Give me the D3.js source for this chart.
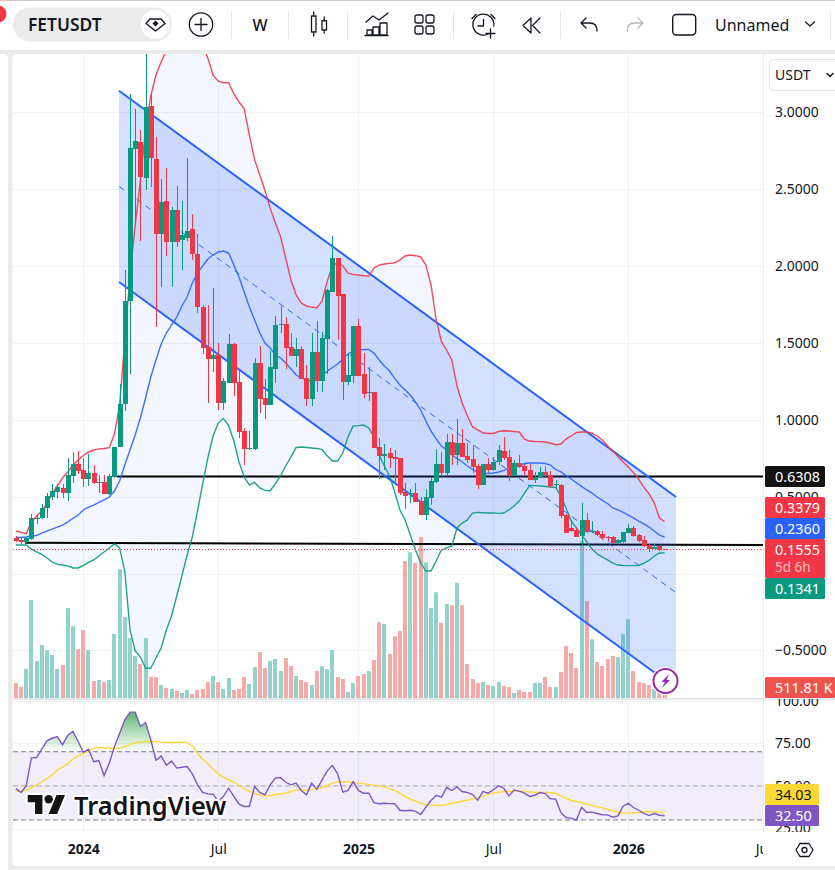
<!DOCTYPE html>
<html>
<head>
<meta charset="utf-8">
<title>FETUSDT weekly</title>
<script src="https://cdn.jsdelivr.net/npm/d3@7/dist/d3.min.js"></script>
<style>
html,body{margin:0;padding:0;background:#fff;overflow:hidden}
svg{display:block}
text{font-family:"Noto Sans","Open Sans",sans-serif}
</style>
</head>
<body>
<svg id="chart" width="835" height="870"></svg>
<script>
// Weekly bars, indexed from the first week of 2024 (bar 0).
const firstBar = -13;

const opens = [
.234,.221,.204,.225,.360,.360,.425,.498,.531,.553,.522,.635,.711,
.672,.613,.652,.590,.598,.516,.626,.821,1.100,1.771,2.760,2.805,2.570,3.040,2.695,2.210,2.420,2.157,2.360,2.167,2.183,2.240,2.080,1.730,1.475,1.396,1.420,1.110,1.240,1.490,1.243,.926,.810,.811,1.368,1.140,1.095,1.327,1.615,1.622,1.470,1.416,1.457,1.273,1.134,1.440,1.251,1.524,1.832,2.050,1.817,1.247,1.286,1.609,1.297,1.175,1.180,
.822,.766,.781,.757,.751,.532,.517,.521,.471,.380,.493,.597,.712,.651,.855,.770,.848,.764,.744,.697,.575,.712,.673,.727,.796,.757,.632,.718,.699,.673,.610,.627,.660,.638,.577,.575,.380,.296,.283,.244,.348,.270,.274,.257,.237,.239,.196,.203,.265,.296,.252,.218,.185,.159,.181,.158];
const highs = [
.243,.228,.238,.390,.380,.451,.524,.579,.579,.581,.748,.789,.795,
.752,.780,.704,.642,.642,.650,.821,1.235,1.973,3.120,3.020,2.880,3.500,3.120,2.840,2.565,2.635,2.380,2.520,2.420,2.700,2.340,2.210,1.745,1.745,1.856,1.500,1.270,1.556,1.500,1.320,.945,.926,1.400,1.479,1.264,1.448,1.674,1.739,1.670,1.563,1.530,1.479,1.355,1.565,1.641,1.570,1.850,2.194,2.050,1.817,1.435,1.609,1.654,1.431,1.344,1.183,
.879,.842,.818,.803,.751,.588,.551,.586,.500,.551,.629,.807,.792,.907,.907,1.002,.939,.848,.833,.715,.715,.749,.759,.833,.887,.803,.738,.768,.715,.715,.660,.694,.700,.666,.608,.580,.390,.348,.304,.456,.395,.343,.283,.278,.244,.244,.225,.272,.322,.309,.254,.246,.192,.192,.183,.159];
const lows = [
.206,.195,.200,.221,.325,.355,.360,.477,.488,.488,.470,.590,.650,
.561,.568,.581,.524,.516,.512,.622,.821,1.056,1.297,2.280,2.160,2.490,2.510,1.600,1.860,2.065,1.865,2.125,1.970,2.160,2.040,1.695,1.430,1.110,1.310,1.060,1.060,1.240,1.154,.880,.707,.805,.800,1.045,1.006,1.095,1.240,1.563,1.330,1.416,1.345,1.266,1.089,1.089,1.180,1.180,1.300,1.832,1.518,1.128,1.225,1.236,1.286,1.140,1.120,.818,
.612,.673,.686,.597,.510,.417,.456,.465,.380,.348,.445,.586,.640,.634,.705,.705,.759,.716,.651,.551,.575,.651,.668,.705,.738,.603,.632,.688,.638,.608,.590,.625,.620,.554,.554,.360,.261,.272,.235,.185,.265,.261,.246,.222,.207,.192,.192,.198,.265,.239,.207,.175,.142,.157,.148,.154];
const closes = [
.212,.204,.234,.364,.364,.429,.503,.535,.561,.522,.639,.711,.665,
.613,.652,.587,.598,.516,.633,.821,1.100,1.771,2.766,2.810,2.580,3.030,2.700,2.210,2.415,2.157,2.360,2.157,2.200,2.226,2.080,1.730,1.468,1.396,1.420,1.106,1.250,1.490,1.240,.922,.811,.815,1.368,1.136,1.095,1.342,1.615,1.622,1.468,1.416,1.460,1.266,1.134,1.440,1.251,1.531,1.843,2.050,1.806,1.247,1.290,1.609,1.286,1.167,1.180,.818,
.764,.775,.753,.746,.525,.506,.521,.465,.380,.497,.601,.712,.653,.855,.770,.848,.759,.738,.692,.575,.710,.673,.727,.803,.753,.632,.718,.692,.666,.610,.627,.660,.640,.571,.582,.376,.261,.278,.235,.348,.270,.278,.252,.231,.233,.196,.218,.268,.296,.244,.211,.179,.161,.172,.155,.1555];

// Weekly volume, in millions of FET.
const volumes = [
2.55,1.87,4.93,16.7,6.29,9.0,8.16,7.3,4.93,5.6,15.3,12.2,8.33,
11.6,8.16,2.9,3.06,2.72,3.06,10.9,21.9,13.8,10.2,7.14,5.78,10.2,3.57,3.57,2.21,1.7,1.53,1.19,.85,1.36,.68,1.36,1.53,2.72,3.74,2.72,1.53,3.4,1.36,1.53,3.57,2.38,5.27,7.82,5.1,6.29,6.63,4.6,6.8,5.44,3.74,3.06,2.72,2.21,4.59,5.44,4.93,8.16,3.57,3.23,1.02,2.55,3.74,4.08,4.59,6.46,
12.9,12.6,7.48,10.5,11.4,23.3,24.8,23.0,27.4,23.1,15.3,18.0,12.8,16.0,15.8,19.6,15.8,5.78,3.23,2.55,2.72,2.21,2.04,2.72,2.04,1.87,.85,1.36,1.02,1.02,2.55,2.55,3.57,1.87,1.87,4.42,8.84,7.65,5.1,26.7,16.5,10.0,6.12,5.44,6.63,7.14,6.97,10.9,13.4,4.59,2.72,2.55,2.21,1.53,.8,.51181];

// Bollinger bands.
const bandUpper = [
.276,.267,.257,.335,.374,.406,.458,.517,.569,.621,.66,.705,.738,
.767,.79,.803,.81,.813,.818,.907,1.095,1.518,1.94,2.265,2.558,2.883,3.104,3.24,3.326,3.40,3.47,3.55,3.62,3.65,3.62,3.53,3.435,3.35,3.24,3.2,3.19,3.19,3.12,3.065,3.02,2.85,2.69,2.59,2.49,2.375,2.278,2.19,2.05,1.908,1.81,1.758,1.739,1.732,1.726,1.771,1.9,2.0,2.02,2.0,1.953,1.943,1.94,1.936,1.934,1.986,
2.005,2.012,2.016,2.02,2.038,2.064,2.07,2.066,2.059,2.005,1.875,1.648,1.507,1.453,1.388,1.219,1.108,1.024,.952,.933,.915,.91,.91,.923,.928,.926,.923,.92,.874,.861,.858,.857,.855,.848,.837,.842,.874,.894,.917,.92,.92,.913,.894,.868,.829,.796,.76,.725,.692,.656,.614,.562,.517,.459,.361,.3379];
const bandBasis = [
.234,.234,.237,.244,.247,.263,.276,.289,.302,.315,.335,.358,.38,
.413,.432,.445,.462,.478,.497,.536,.601,.705,.803,.90,1.011,1.141,1.277,1.388,1.492,1.563,1.615,1.667,1.739,1.797,1.888,1.953,2.0,2.044,2.07,2.09,2.096,2.083,2.005,1.927,1.83,1.732,1.648,1.563,1.498,1.466,1.42,1.401,1.368,1.329,1.29,1.271,1.258,1.251,1.264,1.287,1.316,1.339,1.362,1.394,1.427,1.446,1.453,1.455,1.457,1.433,
1.388,1.349,1.316,1.268,1.225,1.193,1.16,1.115,1.063,.991,.926,.874,.829,.803,.77,.748,.725,.699,.676,.66,.652,.65,.653,.66,.67,.683,.692,.702,.715,.718,.718,.718,.715,.705,.676,.66,.637,.614,.59,.566,.543,.523,.497,.475,.455,.426,.413,.397,.38,.361,.341,.322,.302,.276,.25,.2360];
const bandLower = [
.185,.185,.185,.159,.14,.124,.101,.075,.059,.055,.049,.036,.036,
.051,.072,.088,.114,.14,.166,.192,.166,.01,-.367,-.504,-.543,-.614,-.616,-.549,-.484,-.367,-.276,-.146,-.016,.12,.237,.406,.582,.751,.894,.978,1.008,.962,.861,.725,.627,.575,.592,.556,.54,.538,.582,.634,.699,.757,.819,.822,.819,.816,.813,.806,.764,.731,.731,.783,.887,.959,.961,.965,.946,.887,
.77,.699,.634,.53,.413,.348,.251,.153,.068,.016,.016,.081,.153,.166,.179,.296,.328,.348,.393,.397,.395,.393,.393,.391,.393,.413,.439,.471,.523,.572,.571,.569,.566,.562,.559,.504,.426,.341,.296,.251,.205,.159,.127,.107,.088,.068,.055,.052,.051,.051,.052,.068,.085,.114,.133,.1341];

// RSI and its moving average.
const rsiValues = [
48.4,46.1,50,66.4,66.6,71.5,76.4,77.9,78.9,74,79.5,82,76,
69.7,71.5,64.1,64.8,56.1,63.3,73,80.9,88.7,93.2,93.2,84.8,87.1,77,65,67.4,62.1,64.5,60.4,60.9,61.3,57,50.6,46.1,45.3,45.1,40.8,43.8,48.6,43.8,39.3,37.9,37.9,49.6,46.1,44.7,50.6,54.5,54.9,52.1,50.6,51.6,47.3,44.7,51.6,48,53.5,58.8,61.9,57,46.3,47.3,52.5,47.3,45.7,45.7,40.2,
39.5,39.8,39.6,39.5,35.7,35.4,35.7,35,33.2,37.5,41.4,44.5,43.4,49,47.3,49.4,46.7,46.1,44.9,41.6,46.7,45.7,47.7,50,48.6,44.1,47.5,46.9,45.7,43.8,44.5,46.1,45.5,42.4,42.2,34.4,31.4,31.1,29.9,37.3,34.4,34.6,33.8,33,33,31.6,32.4,38.1,39.8,37.3,35.7,33.8,32.6,33.8,32.8,32.50];
const rsiAverage = [
46.9,46.7,47.3,48.8,50.6,52.1,54.3,56.4,59.4,60.9,62.9,65.6,67.6,
69.1,70.5,71.9,72.7,72.3,72.1,71.9,72.1,73,74.2,75.4,75.6,76,76,75.8,75.6,75.4,75.4,75.4,75.6,75.4,73.4,69.1,65.6,62.9,59.8,57,55.1,53.7,52.1,50.2,48.2,46.7,45.5,44.7,44.1,44.1,44.9,45.3,45.7,46.7,47.5,47.5,47.3,47.8,48.4,49,50.2,51.6,52.3,52.5,52.3,52,51.6,51.2,50.8,50.4,
50,49.4,48.4,47.3,45.7,43.8,42.2,41,39.8,38.9,38.7,38.5,38.5,39.1,39.8,40.4,41,41.6,42.2,42.8,43.8,45,45.7,46.3,46.5,46.7,46.9,46.9,46.7,46.4,46.2,46.1,46.1,46.1,45.5,44.1,42.6,41.4,40.8,40.2,39.2,38.4,37.7,37.1,36.3,35.5,34.4,34,34,34.2,34.4,34.8,35,34.8,34.6,34.03];

// Parallel channel and the two horizontal levels drawn by hand.
const channelBars = [6.87, 114.2];
const channelTop = [3.138, 0.497];
const channelBottom = [1.895, -0.746];
const levelHigh = { bars: [6.5, 131], prices: [0.6308, 0.6308] };
const levelLow = { bars: [-11.2, 131], prices: [0.200, 0.185] };

const priceGrid = [3, 2.5, 2, 1.5, 1, 0.5, 0, -0.5];
const priceLabels = [3, 2.5, 2, 1.5, 1, 0.5, -0.5];
const rsiTicks = [100, 75, 50, 25];
const timeTickBars = [0, 26, 53, 79, 105, 131];
const timeTickLabels = ['2024', 'Jul', '2025', 'Jul', '2026', 'Jul'];
const lastClose = closes[closes.length - 1];

const bars = opens.map((o, k) => ({
  i: firstBar + k, o, h: highs[k], l: lows[k], c: closes[k], v: volumes[k],
  up: closes[k] >= o
}));
const series = arr => arr.map((v, k) => ({ i: firstBar + k, v }));

const paneLeft = 13, paneRight = 763, priceTop = 54, priceBottom = 698, rsiTop = 700, rsiBottom = 832;

const x = d3.scaleLinear().domain([0, 105]).range([83.3, 628.3]);
const yPrice = d3.scaleLinear().domain([0, 3]).range([573.5, 112]);
const yVol = d3.scaleLinear().domain([0, 27.4]).range([698, 537]);
const yRsi = d3.scaleLinear().domain([25, 75]).range([828.5, 743.2]);

const UP = '#089981', DOWN = '#f23645', BLUE = '#2962ff', INK = '#131722', GAP = '#ebebeb', GRID = '#f1f2f4';

const svg = d3.select('#chart');
const defs = svg.append('defs');
defs.append('clipPath').attr('id', 'clipPrice').append('rect')
  .attr('x', paneLeft).attr('y', priceTop).attr('width', paneRight - paneLeft).attr('height', priceBottom - priceTop);
defs.append('clipPath').attr('id', 'clipRsi').append('rect')
  .attr('x', paneLeft).attr('y', rsiTop).attr('width', paneRight - paneLeft).attr('height', rsiBottom - rsiTop);
defs.append('clipPath').attr('id', 'clipAbove70').append('rect')
  .attr('x', paneLeft).attr('y', rsiTop).attr('width', paneRight - paneLeft).attr('height', yRsi(70) - rsiTop);
defs.append('clipPath').attr('id', 'clipAxisPrice').append('rect')
  .attr('x', 765).attr('y', priceTop).attr('width', 70).attr('height', priceBottom - priceTop);
defs.append('clipPath').attr('id', 'clipAxisRsi').append('rect')
  .attr('x', 765).attr('y', rsiTop - 1).attr('width', 70).attr('height', rsiBottom - rsiTop + 1);
defs.append('clipPath').attr('id', 'clipTime').append('rect')
  .attr('x', paneLeft).attr('y', rsiBottom).attr('width', paneRight - paneLeft).attr('height', 34);
const grad = defs.append('linearGradient').attr('id', 'overbought')
  .attr('gradientUnits', 'userSpaceOnUse').attr('x1', 0).attr('x2', 0)
  .attr('y1', yRsi(95)).attr('y2', yRsi(70));
grad.append('stop').attr('offset', 0).attr('stop-color', '#2e9e4f').attr('stop-opacity', .85);
grad.append('stop').attr('offset', 1).attr('stop-color', '#4caf50').attr('stop-opacity', 0);

// Page frame: gaps between the toolbar, side strip and chart panel.
svg.append('rect').attr('width', 835).attr('height', 870).attr('fill', '#fff');
svg.append('rect').attr('width', 835).attr('height', 1).attr('fill', '#d4c8c4');
svg.append('rect').attr('y', 50).attr('width', 835).attr('height', 820).attr('fill', GAP);
svg.append('rect').attr('x', -6).attr('y', 54).attr('width', 14).attr('height', 830).attr('rx', 4).attr('fill', '#fff');
svg.append('rect').attr('x', 12.5).attr('y', 54).attr('width', 830).attr('height', 812).attr('rx', 4).attr('fill', '#fff');

// Grid
const grid = svg.append('g').attr('stroke', GRID).attr('stroke-width', 1).attr('shape-rendering', 'crispEdges');
grid.selectAll('.gp').data(priceGrid).join('line')
  .attr('x1', paneLeft).attr('x2', paneRight)
  .attr('y1', d => Math.round(yPrice(d))).attr('y2', d => Math.round(yPrice(d)));
grid.selectAll('.gr').data(rsiTicks).join('line')
  .attr('x1', paneLeft).attr('x2', paneRight)
  .attr('y1', d => Math.round(yRsi(d))).attr('y2', d => Math.round(yRsi(d)));
grid.selectAll('.gt').data(timeTickBars.slice(0, 5)).join('line')
  .attr('y1', priceTop).attr('y2', rsiBottom)
  .attr('x1', d => Math.round(x(d))).attr('x2', d => Math.round(x(d)));
grid.append('line').attr('x1', paneRight).attr('x2', paneRight).attr('y1', priceTop).attr('y2', rsiBottom).attr('stroke', '#eceef2');

const price = svg.append('g').attr('clip-path', 'url(#clipPrice)');

// Bollinger background
const lineP = d3.line().x(d => x(d.i)).y(d => yPrice(d.v));
price.append('path').datum(bars.map((b, k) => ({ i: b.i, u: bandUpper[k], l: bandLower[k] })))
  .attr('fill', BLUE).attr('fill-opacity', .05)
  .attr('d', d3.area().x(d => x(d.i)).y0(d => yPrice(d.l)).y1(d => yPrice(d.u)));

// Volume
price.append('g').selectAll('rect').data(bars).join('rect')
  .attr('x', d => Math.round(x(d.i)) - 2).attr('width', 4)
  .attr('y', d => yVol(d.v)).attr('height', d => yVol(0) - yVol(d.v))
  .attr('fill', d => d.up ? '#92d2cc' : '#f7a9a7');

// Horizontal levels
[levelHigh, levelLow].forEach(l => {
  price.append('line')
    .attr('x1', x(l.bars[0])).attr('x2', x(l.bars[1]))
    .attr('y1', yPrice(l.prices[0])).attr('y2', yPrice(l.prices[1]))
    .attr('stroke', '#000').attr('stroke-width', 2);
});

// Parallel channel
const chanPts = [[channelBars[0], channelTop[0]], [channelBars[1], channelTop[1]], [channelBars[1], channelBottom[1]], [channelBars[0], channelBottom[0]]];
price.append('path').attr('d', d3.line().x(d => x(d[0])).y(d => yPrice(d[1]))(chanPts) + 'Z')
  .attr('fill', BLUE).attr('fill-opacity', .2);
[channelTop, channelBottom].forEach(c => {
  price.append('line').attr('x1', x(channelBars[0])).attr('x2', x(channelBars[1]))
    .attr('y1', yPrice(c[0])).attr('y2', yPrice(c[1]))
    .attr('stroke', BLUE).attr('stroke-width', 2);
});
price.append('line').attr('x1', x(channelBars[0])).attr('x2', x(channelBars[1]))
  .attr('y1', yPrice((channelTop[0] + channelBottom[0]) / 2)).attr('y2', yPrice((channelTop[1] + channelBottom[1]) / 2))
  .attr('stroke', BLUE).attr('stroke-width', 1).attr('stroke-dasharray', '6 5');

// Bollinger lines
[[bandUpper, DOWN], [bandBasis, BLUE], [bandLower, UP]].forEach(([arr, col]) => {
  price.append('path').datum(series(arr)).attr('fill', 'none')
    .attr('stroke', col).attr('stroke-width', 1.4).attr('stroke-opacity', .9).attr('d', lineP);
});

// Candles
const candles = price.append('g').attr('shape-rendering', 'crispEdges');
candles.selectAll('.wick').data(bars).join('line')
  .attr('x1', d => Math.round(x(d.i)) + .5).attr('x2', d => Math.round(x(d.i)) + .5)
  .attr('y1', d => yPrice(d.h)).attr('y2', d => yPrice(d.l))
  .attr('stroke', d => d.up ? UP : DOWN);
candles.selectAll('.body').data(bars).join('rect')
  .attr('x', d => Math.round(x(d.i)) - 2).attr('width', 5)
  .attr('y', d => yPrice(Math.max(d.o, d.c)))
  .attr('height', d => Math.max(1, Math.abs(yPrice(d.o) - yPrice(d.c))))
  .attr('fill', d => d.up ? UP : DOWN);

// Last-price dotted line
price.append('line').attr('x1', paneLeft).attr('x2', paneRight)
  .attr('y1', yPrice(lastClose)).attr('y2', yPrice(lastClose))
  .attr('stroke', DOWN).attr('stroke-width', 1).attr('stroke-dasharray', '1 2');

// Flash badge over the channel end
const badge = svg.append('g').attr('transform', 'translate(665.5,681)');
badge.append('circle').attr('r', 14).attr('fill', '#fff');
badge.append('circle').attr('r', 12).attr('fill', '#fff').attr('stroke', '#9c27b0').attr('stroke-width', 2);
badge.append('path').attr('d', 'M3.5,-7 L-4,1 L-.5,1 L-3.5,7 L4.5,-1 L1,-1 Z').attr('fill', '#9c27b0');

// Pane separator
svg.append('rect').attr('x', paneLeft).attr('y', 698).attr('width', 822).attr('height', 2).attr('fill', '#e6e7ea');

// RSI pane
const rsi = svg.append('g').attr('clip-path', 'url(#clipRsi)');
const lineR = d3.line().x(d => x(d.i)).y(d => yRsi(d.v));
rsi.append('rect').attr('x', paneLeft).attr('width', paneRight - paneLeft)
  .attr('y', yRsi(70)).attr('height', yRsi(30) - yRsi(70)).attr('fill', '#7e57c2').attr('fill-opacity', .1);
rsi.append('path').datum(series(rsiValues)).attr('clip-path', 'url(#clipAbove70)')
  .attr('fill', 'url(#overbought)')
  .attr('d', d3.area().x(d => x(d.i)).y0(yRsi(70)).y1(d => yRsi(d.v)));
[[70, 1], [50, .55], [30, 1]].forEach(([lvl, op]) => {
  rsi.append('line').attr('x1', paneLeft).attr('x2', paneRight)
    .attr('y1', yRsi(lvl)).attr('y2', yRsi(lvl))
    .attr('stroke', '#787b86').attr('stroke-opacity', op).attr('stroke-dasharray', '5 3');
});
rsi.append('path').datum(series(rsiAverage)).attr('fill', 'none').attr('stroke', '#fdd835').attr('stroke-width', 1.4).attr('d', lineR);
rsi.append('path').datum(series(rsiValues)).attr('fill', 'none').attr('stroke', '#7e57c2').attr('stroke-width', 1.4).attr('d', lineR);

// Watermark
const logo = svg.append('g').attr('transform', 'translate(27.7,790.8) scale(1.05)');
const logoShapes = g => {
  g.append('path').attr('d', 'M14 22H7V11H0V4h14v18ZM28 22h-8l7.5-18h8L28 22Z');
  g.append('circle').attr('cx', 20).attr('cy', 8).attr('r', 4);
};
const halo = logo.append('g').attr('fill', '#fff').attr('stroke', '#fff').attr('stroke-width', 4).attr('stroke-linejoin', 'round');
logoShapes(halo);
const solid = logo.append('g').attr('fill', '#131313');
logoShapes(solid);
svg.append('text').attr('x', 74).attr('y', 815).text('TradingView')
  .attr('font-size', 25.4).attr('font-weight', 600).attr('fill', '#131313')
  .attr('stroke', '#fff').attr('stroke-width', 4).attr('stroke-linejoin', 'round').attr('paint-order', 'stroke');

// Axes
const styleAxis = g => {
  g.select('.domain').remove();
  g.selectAll('.tick line').remove();
  g.selectAll('text').attr('fill', INK).attr('font-size', 14).attr('font-family', '"Noto Sans",sans-serif');
};
svg.append('g').attr('clip-path', 'url(#clipAxisPrice)').append('g')
  .attr('transform', 'translate(775,0)')
  .call(d3.axisRight(yPrice).tickValues(priceLabels).tickSize(0).tickPadding(0).tickFormat(d3.format('.4f')))
  .call(styleAxis);
svg.append('g').attr('clip-path', 'url(#clipAxisRsi)').append('g')
  .attr('transform', 'translate(775,0)')
  .call(d3.axisRight(yRsi).tickValues(rsiTicks).tickSize(0).tickPadding(0).tickFormat(d3.format('.2f')))
  .call(styleAxis);
svg.append('g').attr('clip-path', 'url(#clipTime)').append('g')
  .attr('transform', 'translate(0,844)')
  .call(d3.axisBottom(x).tickValues(timeTickBars).tickSize(0).tickPadding(0).tickFormat((d, k) => timeTickLabels[k]))
  .call(styleAxis)
  .call(g => g.selectAll('text').attr('font-weight', (d, k) => /^\d/.test(timeTickLabels[k]) ? 700 : 400));

// Value tags on the right scale
const fmt4 = d3.format('.4f'), fmt2 = d3.format('.2f');
const tags = [
  { t: fmt4(levelHigh.prices[0]), top: 466, h: 21, bg: '#131313', w: 60 },
  { t: fmt4(bandUpper[bandUpper.length - 1]), top: 497, h: 21, bg: DOWN, w: 60 },
  { t: fmt4(bandBasis[bandBasis.length - 1]), top: 518, h: 21, bg: BLUE, w: 60 },
  { t: fmt4(lastClose), sub: '5d 6h', top: 539, h: 39, bg: DOWN, w: 60 },
  { t: fmt4(bandLower[bandLower.length - 1]), top: 578, h: 21, bg: UP, w: 60 },
  { t: d3.format('.2f')(volumes[volumes.length - 1] * 1000) + ' K', top: 677, h: 21, bg: '#ef5350', w: 70 },
  { t: fmt2(rsiAverage[rsiAverage.length - 1]), top: 784, h: 21, bg: '#fdd835', w: 54, ink: INK },
  { t: fmt2(rsiValues[rsiValues.length - 1]), top: 805, h: 21, bg: '#7e57c2', w: 54 }
];
const tagG = svg.append('g').selectAll('g').data(tags).join('g');
tagG.append('rect').attr('x', 765).attr('y', d => d.top).attr('width', d => d.w).attr('height', d => d.h)
  .attr('rx', 1.5).attr('fill', d => d.bg);
tagG.append('text').attr('x', 775).attr('y', d => d.top + 15.5).text(d => d.t)
  .attr('fill', d => d.ink || '#fff').attr('font-size', 14.4);
tagG.filter(d => d.sub).append('text').attr('x', 775).attr('y', d => d.top + 33).text(d => d.sub)
  .attr('fill', '#fff').attr('fill-opacity', .7).attr('font-size', 13.5);

// Currency selector
svg.append('rect').attr('x', 769.5).attr('y', 59.5).attr('width', 80).attr('height', 31).attr('rx', 4)
  .attr('fill', '#fff').attr('stroke', '#e6e7ea');
svg.append('text').attr('x', 775).attr('y', 80).text('USDT').attr('font-size', 14).attr('fill', INK);
const stroke = (d, col, w) => svg.append('path').attr('d', d).attr('fill', 'none')
  .attr('stroke', col || INK).attr('stroke-width', w || 1.3).attr('stroke-linejoin', 'round').attr('stroke-linecap', 'round');
stroke('M827,73.5 L830,76.5 L833,73.5', INK, 1.5);

// Settings hexagon in the corner of the scales
stroke('M796,850 L800,843.5 L809,843.5 L813,850 L809,856.5 L800,856.5 Z');
svg.append('circle').attr('cx', 804.5).attr('cy', 850).attr('r', 2.5).attr('fill', 'none').attr('stroke', INK).attr('stroke-width', 1.3);

// Toolbar
svg.append('circle').attr('cx', -2).attr('cy', 14).attr('r', 8.5).attr('fill', DOWN);
svg.append('rect').attr('x', 13).attr('y', 7.5).attr('width', 159).attr('height', 34).attr('rx', 17).attr('fill', GAP);
svg.append('text').attr('x', 28).attr('y', 30.5).text('FETUSDT').attr('font-size', 17.4).attr('font-weight', 600).attr('fill', INK);
svg.append('circle').attr('cx', 155.5).attr('cy', 24.5).attr('r', 14.5).attr('fill', '#fff');
stroke('M150,19 L161,19 L165,23.5 L155.5,31 L146,23.5 Z', INK, 1.4);
svg.append('path').attr('d', 'M155.5,20.5 L158.5,23.5 L155.5,26.5 L152.5,23.5 Z').attr('fill', INK);

svg.append('circle').attr('cx', 201).attr('cy', 24.5).attr('r', 11.7).attr('fill', 'none').attr('stroke', INK).attr('stroke-width', 1.3);
stroke('M201,18.5 V30.5 M195,24.5 H207');

[231.5, 288.5, 347.5, 453.5, 560.5, 830.5].forEach(px => {
  svg.append('line').attr('x1', px).attr('x2', px).attr('y1', 11).attr('y2', 39).attr('stroke', '#e6e7ea');
});
svg.append('text').attr('x', 260).attr('y', 30.5).attr('text-anchor', 'middle').text('W')
  .attr('font-size', 16).attr('font-weight', 500).attr('fill', INK);

// Bar-style glyph
stroke('M313.7,12 V16 M313.7,32 V36 M324.2,17 V20.7 M324.2,30 V33');
svg.append('rect').attr('x', 311.5).attr('y', 16).attr('width', 4.5).attr('height', 16).attr('fill', 'none').attr('stroke', INK).attr('stroke-width', 1.3);
svg.append('rect').attr('x', 322).attr('y', 20.7).attr('width', 4.5).attr('height', 9.3).attr('fill', 'none').attr('stroke', INK).attr('stroke-width', 1.3);

// Indicators glyph
stroke('M366,22 L373,16 L379,20 L388,13');
stroke('M367,35 V30 H372 V35 Z M373,35 V27 H379 V35 Z M380,35 V23 H387 V35 Z M365,35.5 H388');

// Layout glyph
[[415, 15], [426, 15], [415, 26], [426, 26]].forEach(([qx, qy]) => {
  svg.append('rect').attr('x', qx).attr('y', qy).attr('width', 8).attr('height', 8).attr('rx', 2)
    .attr('fill', 'none').attr('stroke', INK).attr('stroke-width', 1.3);
});

// Alert glyph
stroke('M489,33.5 A10.5,10.5 0 1 1 493.8,26');
stroke('M483.5,19.5 V26 H478 M472,18.5 L476,14.5 M491,14.5 L495,18.5 M490.5,29 V38 M486,33.5 H495');

// Replay glyph
stroke('M531,18 L523,25.5 L531,33 Z M540,18 L532.5,25.5 L540,33');

// Undo and redo
stroke('M586,18 L581,23 L586,28 M581,23 H590 Q597,23 597,31');
stroke('M638,18 L643,23 L638,28 M643,23 H634 Q627.3,23 627.3,31', '#b2b5be');

svg.append('rect').attr('x', 672.7).attr('y', 14.5).attr('width', 23).attr('height', 20.5).attr('rx', 3.5)
  .attr('fill', 'none').attr('stroke', INK).attr('stroke-width', 1.4);
svg.append('text').attr('x', 715).attr('y', 30.5).text('Unnamed').attr('font-size', 16).attr('fill', INK);
stroke('M805.5,22 L810,26 L814.5,22');
</script>
</body>
</html>
